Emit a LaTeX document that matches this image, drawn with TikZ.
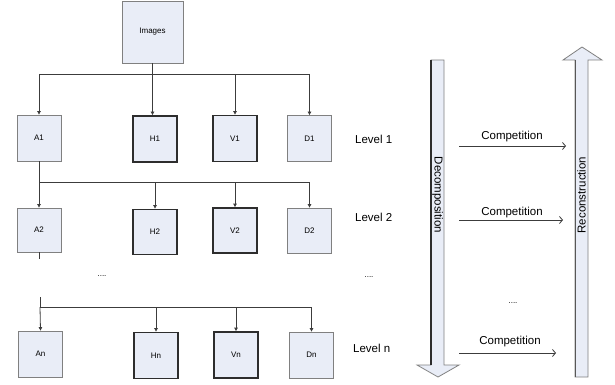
\documentclass[tikz,border=0pt]{standalone}
\usepackage{fontspec}
\setmainfont{Liberation Sans}
\usetikzlibrary{arrows.meta}
\definecolor{boxfill}{RGB}{233,237,247}
\definecolor{thinline}{RGB}{128,128,128}
\definecolor{darkline}{RGB}{45,45,45}
\definecolor{wirecol}{RGB}{60,60,60}
\begin{document}
\begin{tikzpicture}[x=1pt,y=-1pt,
  band/.style={draw=thinline, line width=0.8pt, fill=boxfill, minimum width=44pt,
    minimum height=46pt, inner sep=0pt, font=\fontsize{8}{9}\selectfont},
  boldband/.style={band, draw=darkline, line width=1.8pt},
  wire/.style={draw=wirecol, line width=0.8pt},
  tipwire/.style={wire, -{Triangle[length=3.5pt,width=3.5pt]}},
  compwire/.style={wire, -{Straight Barb[length=3pt,width=7pt]}},
  lvl/.style={font=\fontsize{11.5}{13}\selectfont, anchor=west, inner sep=0pt},
  lbl/.style={font=\fontsize{11.5}{13}\selectfont, inner sep=0pt},
  dots/.style={font=\fontsize{8}{9}\selectfont, inner sep=0pt},
  bigarrow/.style={draw=thinline, fill=boxfill, line width=0.8pt, line join=miter}]
\useasboundingbox (0,0) rectangle (615,385);

% source image
\node[band, minimum width=61pt, minimum height=62pt] (Images) at (152.5,32) {Images};

% level 1 sub-bands
\node[band]     (A1) at (39,138)    {A1};
\node[boldband] (H1) at (155,139)   {H1};
\node[boldband] (V1) at (235,138.5) {V1};
\node[band]     (D1) at (309.5,138.5) {D1};

% level 2 sub-bands
\node[band, minimum height=44pt] (A2) at (39,230) {A2};
\node[boldband, minimum height=45pt] (H2) at (155,232) {H2};
\node[boldband, minimum height=45pt] (V2) at (235,230.5) {V2};
\node[band, minimum height=45pt] (D2) at (309.5,230.5) {D2};

% level n sub-bands
\node[band]     (An) at (40.5,354)  {An};
\node[boldband] (Hn) at (156,355.5) {Hn};
\node[boldband] (Vn) at (236,355)   {Vn};
\node[band]     (Dn) at (311.5,355) {Dn};

% bus lines
\coordinate (b1w) at (39,74);
\coordinate (b1e) at (310,74);
\coordinate (b2w) at (39,182);
\coordinate (b2e) at (310,182);
\coordinate (a2end) at (39,259);
\coordinate (snw) at (40,297);
\coordinate (bnw) at (40,307);
\coordinate (bne) at (312,307);

% level 1 connectors
\draw[wire] (b1w) -- (b1e);
\draw[tipwire] (Images.south) -- (Images.south |- H1.north);
\draw[tipwire] (b1w) -- (A1.north);
\draw[tipwire] (V1.north |- b1w) -- (V1.north);
\draw[tipwire] (D1.north |- b1w) -- (D1.north);

% level 2 connectors
\draw[wire] (b2w) -- (b2e);
\draw[tipwire] (A1.south) -- (A2.north);
\draw[tipwire] (H2.north |- b2w) -- (H2.north);
\draw[tipwire] (V2.north |- b2w) -- (V2.north);
\draw[tipwire] (D2.north |- b2w) -- (D2.north);
\draw[wire] (A2.south) -- (a2end);

% level n connectors
\draw[wire] (snw) -- (bnw) -- (bne);
\draw[tipwire] (bnw) -- (An.north);
\draw[tipwire] (Hn.north |- bnw) -- (Hn.north);
\draw[tipwire] (Vn.north |- bnw) -- (Vn.north);
\draw[tipwire] (Dn.north |- bnw) -- (Dn.north);

\node[dots] (dtree) at (102,276) {....};

% level labels
\node[lvl] (L1) at (355,139) {Level 1};
\node[lvl] (L2) at (355,217) {Level 2};
\node[dots] (dlvl) at (369,277) {....};
\node[lvl] (Ln) at (353,348) {Level n};

% decomposition arrow
\draw[bigarrow] (431,60) -- (444,60) -- (444,365) -- (459,365) -- (438,377)
  -- (417,365) -- (431,365) -- cycle;
\draw[darkline, line width=1.3pt] (431,60) -- (431,365);
\node[lbl, rotate=-90] (dec) at (437.5,195) {Decomposition};

% reconstruction arrow
\draw[bigarrow] (575,377) -- (588,377) -- (588,60) -- (602,60) -- (582,47)
  -- (563,60) -- (575,60) -- cycle;
\draw[darkline!80!white, line width=1pt] (575,60) -- (575,377);
\node[lbl, rotate=90] (rec) at (581.5,195) {Reconstruction};

% competition between levels
\coordinate (c1s) at (459,146);
\coordinate (c1e) at (566,146);
\coordinate (c2s) at (459,220);
\coordinate (c2e) at (563,220);
\coordinate (cns) at (459,353);
\coordinate (cne) at (556,353);
\draw[compwire] (c1s) -- (c1e);
\draw[compwire] (c2s) -- (c2e);
\draw[compwire] (cns) -- (cne);
\node[lbl] (comp1) at (512,137) {Competition};
\node[lbl] (comp2) at (512,213) {Competition};
\node[dots] (dcomp) at (513,303) {....};
\node[lbl] (compn) at (510,342) {Competition};
\end{tikzpicture}
\end{document}
